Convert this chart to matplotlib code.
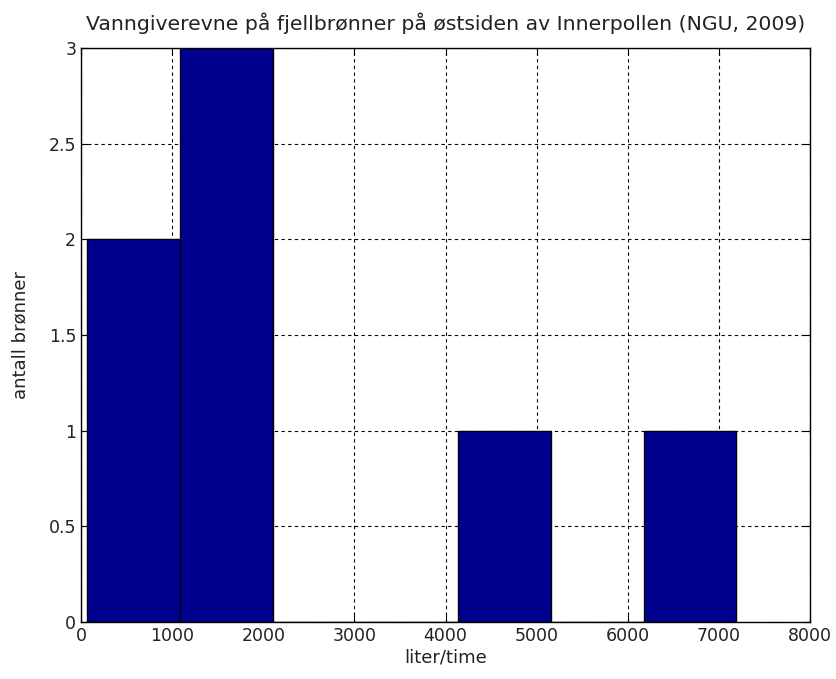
import matplotlib
matplotlib.use("Agg")
import matplotlib.pyplot as plt
import numpy as np

bin_edges = [66, 1084, 2101, 3119, 4137, 5154, 6172, 7190]
counts = [2, 3, 0, 0, 1, 0, 1]
x_ticks = [0, 1000, 2000, 3000, 4000, 5000, 6000, 7000, 8000]
y_ticks = [0, 0.5, 1, 1.5, 2, 2.5, 3]
title = "Vanngiverevne på fjellbrønner på østsiden av Innerpollen (NGU, 2009)"
xlabel = "liter/time"
ylabel = "antall brønner"

plt.rcParams['font.family'] = ['DejaVu Sans']
fig = plt.figure(figsize=(8.36, 6.79), dpi=100)
ax = fig.add_axes([0.097, 0.084, 0.872, 0.845])

edges = np.array(bin_edges)
widths = np.diff(edges)
ax.bar(edges[:-1], counts, width=widths, align='edge', color='#00008F',
       edgecolor='black', linewidth=1.0, zorder=3)

ax.set_xlim(0, 8000)
ax.set_ylim(0, 3)
ax.set_xticks(x_ticks)
ax.set_yticks(y_ticks)
ax.set_yticklabels([f"{v:g}" for v in y_ticks])
ax.grid(True, color='black', linestyle=(0, (3, 3)), linewidth=0.8, zorder=1)
ax.tick_params(direction='in', top=True, right=True, length=5, labelsize=12.5,
               labelcolor='#222222')
for s in ax.spines.values():
    s.set_linewidth(1.0)
    s.set_zorder(4)
ax.set_title(title, fontsize=14.7, pad=13, color='#222222')
ax.set_xlabel(xlabel, fontsize=13, labelpad=3, color='#222222')
ax.set_ylabel(ylabel, fontsize=13, labelpad=14, color='#222222')

fig.savefig("out.png", dpi=100)
